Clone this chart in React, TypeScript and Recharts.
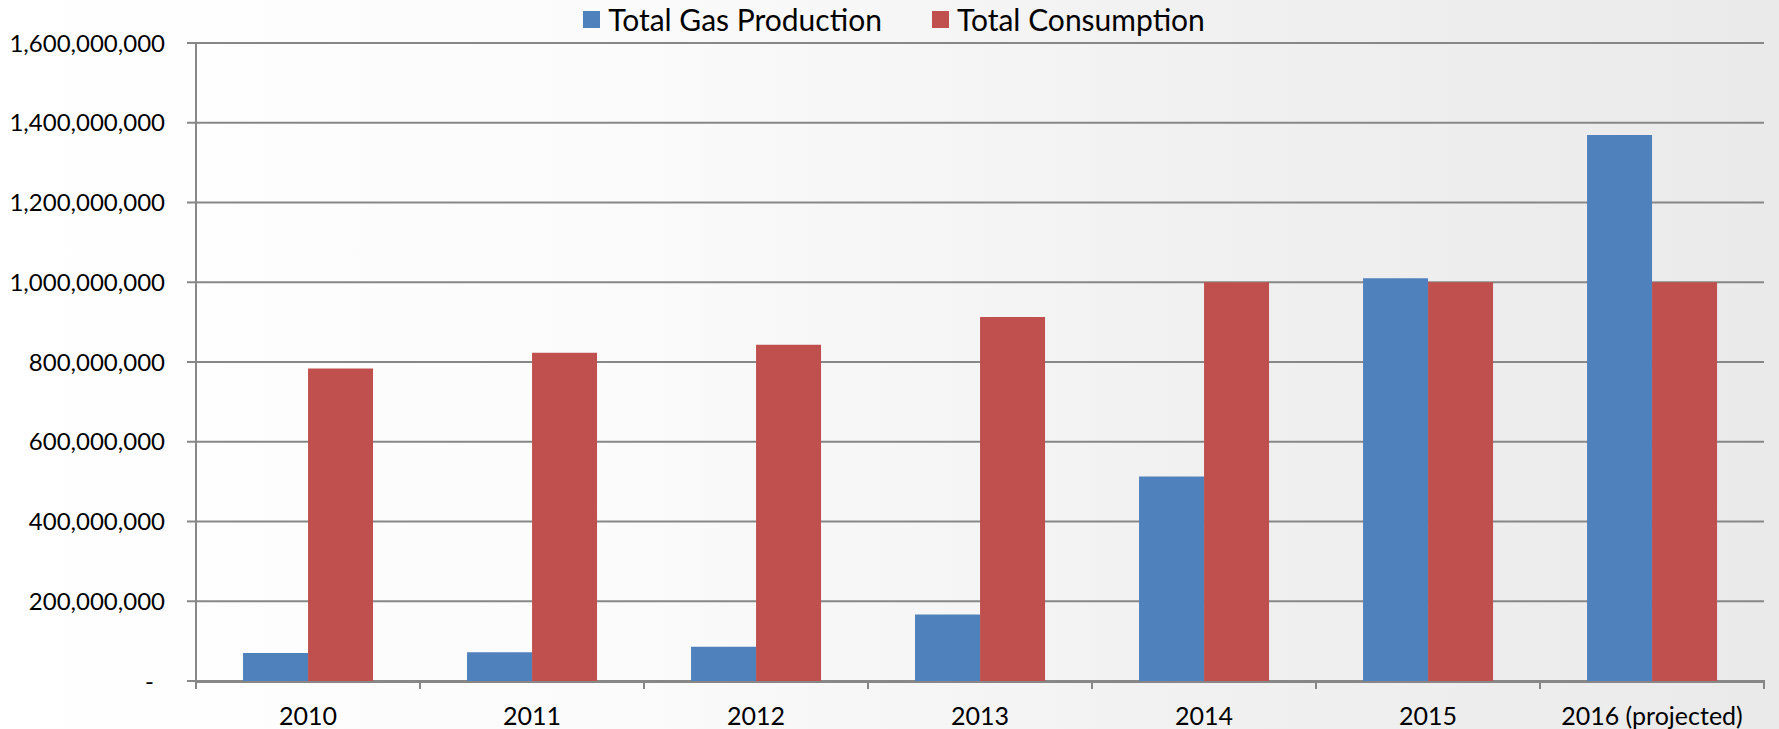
import React from 'react';
import { BarChart, Bar, XAxis, YAxis, CartesianGrid, Legend } from 'recharts';

const years = ['2010', '2011', '2012', '2013', '2014', '2015', '2016 (projected)'];
const production = [70000000, 72000000, 86000000, 167000000, 513000000, 1010000000, 1369000000];
const consumption = [784000000, 823000000, 843000000, 913000000, 1000000000, 1000000000, 1000000000];
const yTicks = [0, 200000000, 400000000, 600000000, 800000000, 1000000000, 1200000000, 1400000000, 1600000000];
const edgeTicks = [0, 1, 2, 3, 4, 5, 6, 7];

const seriesOrder = ['Total Gas Production', 'Total Consumption'];
const BLUE = '#4F81BD';
const RED = '#C0504D';
const GRID = '#878787';
const FONT = 'Lato, "Liberation Sans", sans-serif';

const data = years.map((year, i) => ({
  year,
  idx: i,
  production: production[i],
  consumption: consumption[i],
}));

const fmt = (v: number) => (v === 0 ? '-' : v.toLocaleString('en-US'));

const YTick = (props: any) => {
  const { x, y, payload } = props;
  const isZero = Number(payload.value) === 0;
  return (
    <g transform={`translate(${isZero ? x - 11 : x},${y})`}>
      <text x={0} y={0} dy="0.355em" textAnchor="end" fontFamily={FONT} fontSize={24} fill="#000">
        {fmt(Number(payload.value))}
      </text>
    </g>
  );
};

const EdgeTick = (props: any) => {
  const { x, y } = props;
  return <line x1={x} x2={x} y1={y - 1} y2={y + 8} stroke={GRID} strokeWidth={2} />;
};

const renderLegend = (props: any) => {
  const payload = [...(props.payload || [])].sort(
    (a: any, b: any) => seriesOrder.indexOf(a.value) - seriesOrder.indexOf(b.value)
  );
  return (
    <div
      style={{
        display: 'flex',
        justifyContent: 'center',
        alignItems: 'center',
        height: 38,
        fontFamily: FONT,
        fontSize: 30,
        color: '#000',
        paddingLeft: 24,
      }}
    >
      {payload.map((p: any, i: number) => (
        <div key={i} style={{ display: 'flex', alignItems: 'center', marginLeft: i === 0 ? 0 : 50 }}>
          <span style={{ width: 17, height: 17, background: p.color, display: 'inline-block', marginRight: 8 }} />
          <span>{p.value}</span>
        </div>
      ))}
    </div>
  );
};

export default function App() {
  return (
    <div
      style={{
        position: 'absolute',
        left: 0,
        top: 0,
        width: 1779,
        height: 729,
        background: 'linear-gradient(to right, #ffffff 0%, #fbfbfb 35%, #f0f0f0 70%, #eaeaea 100%)',
      }}
    >
      <BarChart
        width={1779}
        height={729}
        data={data}
        margin={{ top: 5, right: 15, bottom: 46, left: 0 }}
        barCategoryGap="21%"
        barGap={0}
      >
        <Legend verticalAlign="top" align="center" content={renderLegend} wrapperStyle={{ top: 0 }} />
        <CartesianGrid vertical={false} stroke={GRID} strokeWidth={2} />
        <XAxis
          xAxisId="a_edges"
          dataKey="idx"
          type="number"
          domain={[0, 7]}
          ticks={edgeTicks}
          allowDataOverflow
          tick={<EdgeTick />}
          axisLine={false}
          tickLine={false}
          tickSize={0}
          tickMargin={0}
          height={1}
          interval={0}
        />
        <XAxis
          xAxisId="b_cat"
          dataKey="year"
          axisLine={{ stroke: GRID, strokeWidth: 2 }}
          tickLine={false}
          tickSize={8}
          tickMargin={17}
          height={1}
          interval={0}
          tick={{ fontFamily: FONT, fontSize: 25, fill: '#000' }}
        />
        <YAxis
          domain={[0, 1600000000]}
          ticks={yTicks}
          width={196}
          axisLine={{ stroke: GRID, strokeWidth: 2 }}
          tickLine={{ stroke: GRID, strokeWidth: 2 }}
          tickSize={9}
          tickMargin={22}
          tick={<YTick />}
          interval={0}
        />
        <Bar
          xAxisId="b_cat"
          dataKey="production"
          name={seriesOrder[0]}
          fill={BLUE}
          isAnimationActive={false}
        />
        <Bar
          xAxisId="b_cat"
          dataKey="consumption"
          name={seriesOrder[1]}
          fill={RED}
          isAnimationActive={false}
        />
      </BarChart>
    </div>
  );
}
